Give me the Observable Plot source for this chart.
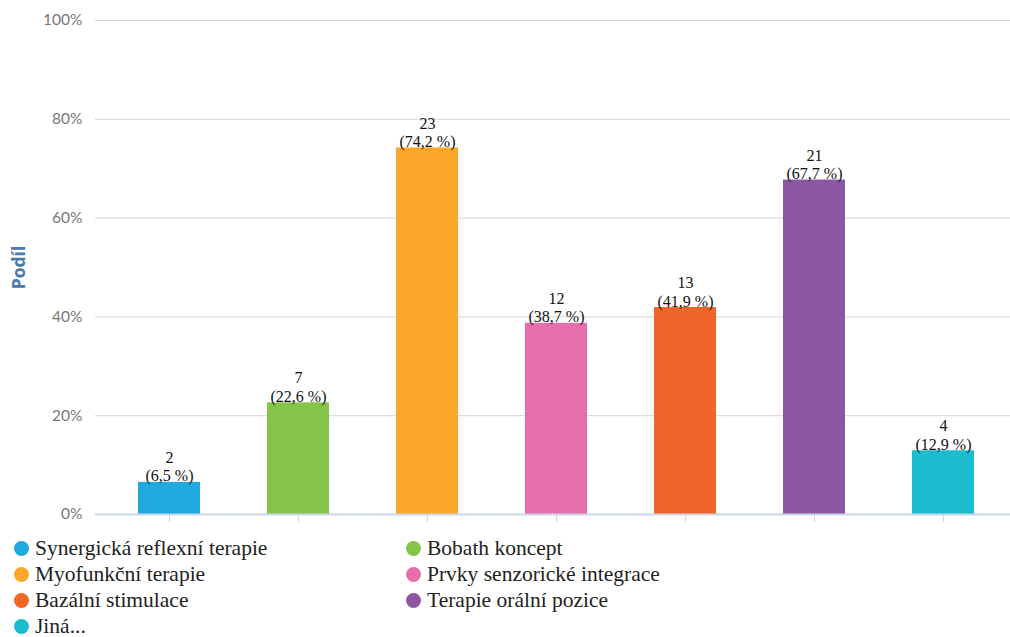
<!DOCTYPE html>
<html>
<head>
<meta charset="utf-8">
<script src="https://cdn.jsdelivr.net/npm/d3@7"></script>
<script src="https://cdn.jsdelivr.net/npm/@observablehq/plot@0.6"></script>
<style>
  html, body { margin: 0; padding: 0; background: #fff; overflow: hidden; }
  #chart svg { display: block; overflow: visible; }
  .legend {
    display: grid;
    grid-template-columns: 392px 400px;
    grid-auto-rows: 26px;
    margin: 3px 0 0 14px;
    font-family: "Liberation Serif", "Times New Roman", serif;
    font-size: 21.5px;
    line-height: 20px;
    color: #222;
  }
  .legend .item { display: flex; align-items: center; white-space: nowrap; }
  .legend .dot { width: 15px; height: 15px; border-radius: 50%; margin-right: 6px; flex: none; }
</style>
</head>
<body>
<div id="chart"></div>
<div class="legend" id="legend"></div>
<script>
// Therapy approaches, number of respondents and their share
const categories = [
  "Synergická reflexní terapie",
  "Bobath koncept",
  "Myofunkční terapie",
  "Prvky senzorické integrace",
  "Bazální stimulace",
  "Terapie orální pozice",
  "Jiná..."
];
const counts = [2, 7, 23, 12, 13, 21, 4];
const shares = [6.5, 22.6, 74.2, 38.7, 41.9, 67.7, 12.9];
const colors = ["#20a8e0", "#86c34a", "#fba72a", "#e66fab", "#f0662a", "#8c56a0", "#1bbccd"];
const yTicks = [0, 20, 40, 60, 80, 100];

const rows = categories.map((c, i) => ({
  category: c,
  count: counts[i],
  share: shares[i],
  label: `${counts[i]}\n(${String(shares[i]).replace(".", ",")} %)`
}));

const chart = Plot.plot({
  width: 1010,
  height: 532,
  marginLeft: 101,
  marginRight: 0,
  marginTop: 20,
  marginBottom: 18,
  style: { fontFamily: "Lato, 'Open Sans', sans-serif", background: "#fff" },
  x: { domain: categories, paddingInner: 0.523, paddingOuter: 0.26, axis: null },
  y: { domain: [0, 100], axis: null },
  color: { domain: categories, range: colors },
  marks: [
    Plot.ruleY(yTicks.filter(d => d > 0), { stroke: "#d6d6d6", strokeWidth: 1, insetLeft: -6 }),
    Plot.axisY(yTicks, {
      tickSize: 0,
      tickPadding: 19,
      tickFormat: d => `${d}%`,
      fill: "#777",
      fontSize: 15.5,
      label: null
    }),
    Plot.axisY({
      ticks: [],
      label: "Podíl",
      labelAnchor: "center",
      labelArrow: "none",
      labelOffset: 89,
      fill: "#4a78ad",
      fontWeight: "bold",
      fontFamily: "'Open Sans', sans-serif",
      fontSize: 17.5
    }),
    Plot.barY(rows, { x: "category", y: "share", fill: "category" }),
    Plot.ruleY([0], { stroke: "#ccd6eb", strokeWidth: 2, insetLeft: -6 }),
    Plot.ruleX(rows, {
      x: "category",
      y1: 0,
      y2: -1.7,
      stroke: "#ccd6eb",
      strokeWidth: 1
    }),
    Plot.text(rows, {
      x: "category",
      y: "share",
      text: "label",
      lineAnchor: "bottom",
      lineHeight: 1.15,
      dy: -1,
      fill: "#111",
      fontFamily: "'Liberation Serif', 'Times New Roman', serif",
      fontSize: 16
    })
  ]
});
document.getElementById("chart").appendChild(chart);

const legend = document.getElementById("legend");
categories.forEach((c, i) => {
  const item = document.createElement("div");
  item.className = "item";
  const dot = document.createElement("span");
  dot.className = "dot";
  dot.style.background = colors[i];
  const text = document.createElement("span");
  text.textContent = c;
  item.append(dot, text);
  legend.appendChild(item);
});
</script>
</body>
</html>
